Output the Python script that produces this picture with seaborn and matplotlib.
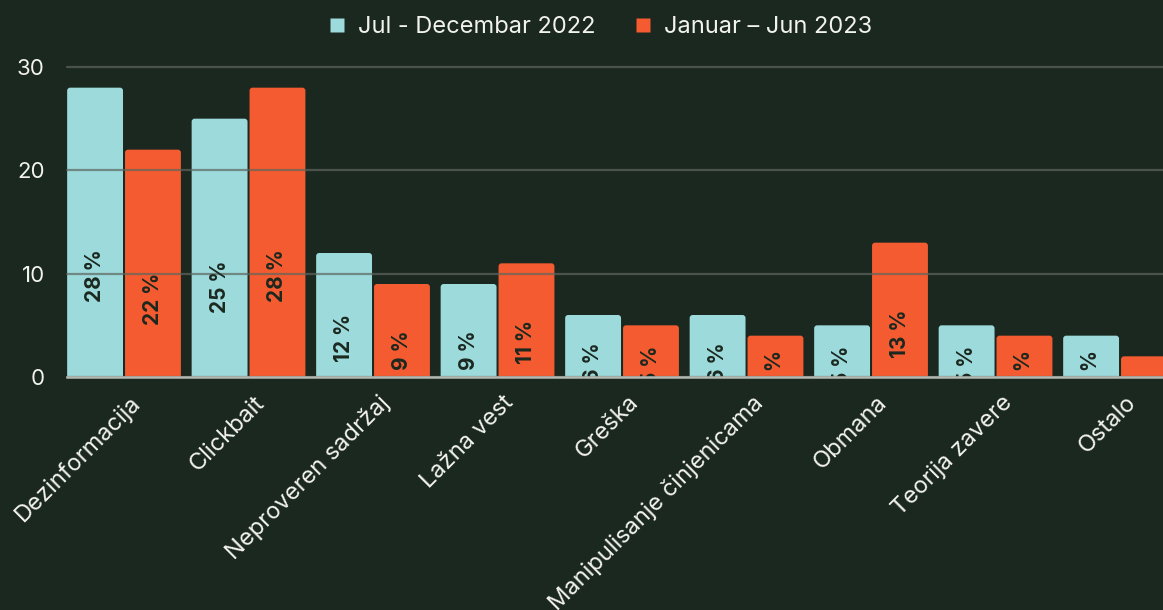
import matplotlib
matplotlib.use("Agg")
import matplotlib.pyplot as plt
from matplotlib.patches import FancyBboxPatch
from matplotlib.lines import Line2D
import matplotlib.transforms as mtransforms
import seaborn as sns
import pandas as pd

# Data
categories = ["Dezinformacija", "Clickbait", "Neproveren sadržaj", "Lažna vest",
              "Greška", "Manipulisanje činjenicama", "Obmana", "Teorija zavere", "Ostalo"]
periods = ["Jul - Decembar 2022", "Januar – Jun 2023"]
values_2022 = [28, 25, 12, 9, 6, 6, 5, 5, 4]
values_2023 = [22, 28, 9, 11, 5, 4, 13, 4, 2]

BG = "#1b281f"
CYAN = "#9cdadb"
ORANGE = "#f55b30"
TEXT = "#f2f2ee"
GRID = "#5d665f"

df = pd.DataFrame({
    "kategorija": categories * 2,
    "period": [periods[0]] * len(categories) + [periods[1]] * len(categories),
    "vrednost": values_2022 + values_2023,
})

sns.set_theme(style="dark")
plt.rcParams["font.family"] = ["Inter", "DejaVu Sans"]

fig = plt.figure(figsize=(11.63, 6.10), dpi=100, facecolor=BG)
ax = fig.add_axes([67 / 1163, 233 / 610, 1096 / 1163, 310 / 610])
ax.set_facecolor(BG)

sns.barplot(data=df, x="kategorija", y="vrednost", hue="period",
            order=categories, hue_order=periods,
            palette=[CYAN, ORANGE], width=0.93, gap=0.035,
            saturation=1, legend=False, ax=ax)

ax.set_xlim(-0.458, 8.345)
ax.set_ylim(0, 30)

# Replace plain rectangles with bars that have softly rounded tops
rx = 0.024
ry = 0.29
bars = list(ax.patches)
for p in bars:
    x, w, h = p.get_x(), p.get_width(), p.get_height()
    fc = p.get_facecolor()
    p.remove()
    rb = FancyBboxPatch((x, -ry), w, h + ry,
                        boxstyle=f"round,pad=0,rounding_size={rx}",
                        mutation_aspect=ry / rx,
                        facecolor=fc, edgecolor="none", zorder=1)
    ax.add_patch(rb)
    if h >= 3:
        # value label sits in the lower part of the bar, clipped at the baseline
        ax.text(x + w / 2, 0.38 * h - 0.8, f"{int(round(h))} %", rotation=90,
                ha="center", va="center", fontsize=15, fontweight="bold",
                color=BG, zorder=4, clip_on=True)

# Grid and axes styling
ax.set_yticks([0, 10, 20, 30])
ax.yaxis.grid(True, color=GRID, linewidth=1.6, alpha=0.7)
ax.xaxis.grid(False)
ax.set_axisbelow(False)
for gl in ax.get_ygridlines():
    gl.set_clip_on(False)
for side in ["left", "right", "top"]:
    ax.spines[side].set_visible(False)
ax.spines["bottom"].set_color("#b3b8b3")
ax.spines["bottom"].set_linewidth(1.8)
ax.spines["bottom"].set_zorder(5)

ax.set_xlabel("")
ax.set_ylabel("")
ax.tick_params(axis="y", length=0, pad=16, labelsize=16, labelcolor=TEXT)
ax.tick_params(axis="x", length=0, pad=6, labelsize=17, labelcolor=TEXT)
for lbl in ax.get_xticklabels():
    lbl.set_rotation(45)
    lbl.set_ha("right")
    lbl.set_va("center")
    lbl.set_rotation_mode("anchor")
    lbl.set_transform(lbl.get_transform() +
                      mtransforms.ScaledTranslation(13 / 100, -14 / 100, fig.dpi_scale_trans))

handles = [Line2D([], [], linestyle="none", marker="s", markersize=9.5,
                  markerfacecolor=c, markeredgecolor="none") for c in (CYAN, ORANGE)]
fig.legend(handles, periods, loc="center", bbox_to_anchor=(0.516, 0.955), ncol=2,
           frameon=False, fontsize=17, labelcolor=TEXT, handletextpad=0.5,
           columnspacing=1.6, handlelength=0.8)

fig.savefig("out.png", dpi=100, facecolor=BG)
